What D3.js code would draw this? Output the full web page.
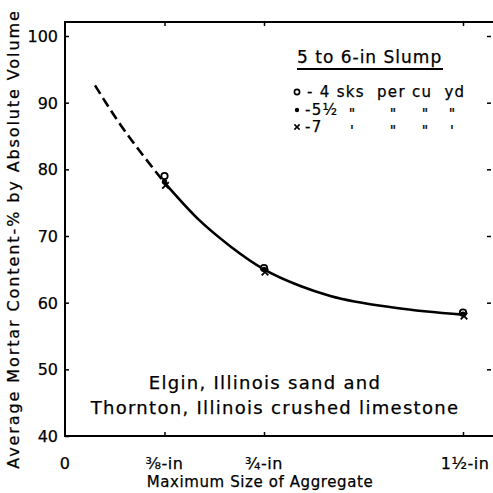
<!DOCTYPE html>
<html><head><meta charset="utf-8">
<script src="https://cdn.jsdelivr.net/npm/d3@7"></script>
<style>body{margin:0;background:#fff}svg{display:block}text{font-family:"DejaVu Sans",sans-serif;fill:#000;stroke:#000;stroke-width:0.25}</style>
</head><body><svg id="c" width="493" height="493"></svg>
<script>
const xTickVals = [0, 0.375, 0.75, 1.5];
const xTickLabels = ["0", "⅜-in", "¾-in", "1½-in"];
const yTickVals = [40, 50, 60, 70, 80, 90, 100];
const sizes = [0.375, 0.75, 1.5];
const sks4 = [79.0, 65.2, 58.5];
const sks55 = [78.2, 65.0, 58.3];
const sks7 = [77.6, 64.6, 58.0];
const curveDashed = [[0.113, 92.6], [0.2, 87.2], [0.3, 81.8], [0.375, 78.0]];
const curveSolid = [[0.375, 78.0], [0.5, 72.6], [0.625, 68.4], [0.75, 65.0], [0.887, 62.5], [1.0, 61.0], [1.25, 59.2], [1.5, 58.2]];
const legendRows = [
  { mark: "open", label: "- 4 sks  per cu  yd", dittos: [] },
  { mark: "dot", label: "-5½", dittos: ["\"", "\"", "\"", "\""] },
  { mark: "cross", label: "-7", dittos: ["'", "\"", "\"", "'"] }
];

const svg = d3.select("#c");
const x = d3.scaleLinear().domain([0, 1.5]).range([65, 463]);
const y = d3.scaleLinear().domain([40, 100]).range([436, 36]);
const fLeft = 65, fRight = 495, fTop = 22, fBottom = 436;

// frame
svg.append("rect").attr("x", fLeft).attr("y", fTop).attr("width", fRight - fLeft).attr("height", fBottom - fTop)
  .attr("fill", "none").attr("stroke", "#000").attr("stroke-width", 2);

// axes
const yAxisL = d3.axisRight(y).tickValues(yTickVals).tickSize(4).tickFormat("");
svg.append("g").attr("transform", `translate(${fLeft},0)`).call(yAxisL).call(g => g.select(".domain").remove());
const yAxisR = d3.axisLeft(y).tickValues(yTickVals.slice(1)).tickSize(4).tickFormat("");
svg.append("g").attr("transform", `translate(491,0)`).call(yAxisR).call(g => g.select(".domain").remove());
const xAxisT = d3.axisBottom(x).tickValues(xTickVals.slice(1)).tickSize(4).tickFormat("");
svg.append("g").attr("transform", `translate(0,${fTop})`).call(xAxisT).call(g => g.select(".domain").remove());
const xAxisB = d3.axisTop(x).tickValues(xTickVals.slice(1)).tickSize(4).tickFormat("");
svg.append("g").attr("transform", `translate(0,${fBottom})`).call(xAxisB).call(g => g.select(".domain").remove());
svg.selectAll(".tick line").attr("stroke", "#000").attr("stroke-width", 1.5);

// tick labels
svg.append("g").selectAll("text").data(yTickVals).join("text")
  .attr("x", 58).attr("y", d => y(d) + 6).attr("text-anchor", "end")
  .attr("font-size", 16).text(d => d);
svg.append("g").selectAll("text").data(xTickVals).join("text")
  .attr("x", (d, i) => x(d) + (i === 3 ? 2 : 0)).attr("y", 469).attr("text-anchor", "middle")
  .attr("font-size", 16).attr("letter-spacing", 0.5).text((d, i) => xTickLabels[i]);

// axis titles
svg.append("text").attr("x", 260).attr("y", 487).attr("text-anchor", "middle")
  .attr("font-size", 15).attr("letter-spacing", 0.6).text("Maximum Size of Aggregate");
svg.append("text").attr("transform", "translate(19,239) rotate(-90)").attr("text-anchor", "middle")
  .attr("font-size", 16).attr("letter-spacing", 1.9).text("Average  Mortar Content-% by Absolute Volume");

// curves
const line = d3.line().x(d => x(d[0])).y(d => y(d[1])).curve(d3.curveMonotoneX);
svg.append("path").attr("d", line(curveDashed)).attr("fill", "none").attr("stroke", "#000")
  .attr("stroke-width", 2.6).attr("stroke-dasharray", "10,5");
svg.append("path").attr("d", line(curveSolid)).attr("fill", "none").attr("stroke", "#000")
  .attr("stroke-width", 2.6);

// markers
svg.append("g").selectAll("circle").data(sizes).join("circle")
  .attr("cx", d => x(d)).attr("cy", (d, i) => y(sks4[i])).attr("r", 3.2)
  .attr("fill", "#fff").attr("stroke", "#000").attr("stroke-width", 1.8);
svg.append("g").selectAll("circle").data(sizes).join("circle")
  .attr("cx", d => x(d)).attr("cy", (d, i) => y(sks55[i])).attr("r", 2.6).attr("fill", "#000");
const cross = d3.symbol().type(d3.symbolX).size(30);
svg.append("g").selectAll("path").data(sizes).join("path")
  .attr("transform", (d, i) => `translate(${x(d) + 1},${y(sks7[i])})`).attr("d", cross())
  .attr("stroke", "#000").attr("stroke-width", 1.8).attr("fill", "none");

// legend
svg.append("text").attr("x", 297).attr("y", 63).attr("font-size", 17).attr("letter-spacing", 1.0).text("5 to 6-in Slump");
svg.append("line").attr("x1", 297).attr("x2", 443).attr("y1", 69).attr("y2", 69).attr("stroke", "#000").attr("stroke-width", 1.8);
const rowY = [92, 110, 127];
const dittoX = [352, 393, 425, 452];
legendRows.forEach((r, i) => {
  const cy = rowY[i];
  if (r.mark === "open") svg.append("circle").attr("cx", 297).attr("cy", cy).attr("r", 2.6).attr("fill", "none").attr("stroke", "#000").attr("stroke-width", 1.6);
  else if (r.mark === "dot") svg.append("circle").attr("cx", 297).attr("cy", cy).attr("r", 2.2).attr("fill", "#000");
  else svg.append("path").attr("transform", `translate(297,${cy})`).attr("d", d3.symbol().type(d3.symbolX).size(20)()).attr("stroke", "#000").attr("stroke-width", 1.5);
  svg.append("text").attr("x", i === 0 ? 307 : 305).attr("y", cy + 5).attr("font-size", 15).attr("letter-spacing", 1.3)
    .attr("xml:space", "preserve").text(r.label);
  r.dittos.forEach((d, j) => {
    svg.append("text").attr("x", dittoX[j]).attr("y", cy + 8).attr("font-size", 14).attr("text-anchor", "middle").text(d);
  });
});

// note
svg.append("text").attr("x", 265).attr("y", 389).attr("text-anchor", "middle").attr("font-size", 18).attr("letter-spacing", 1.3).text("Elgin, Illinois sand and");
svg.append("text").attr("x", 275).attr("y", 414).attr("text-anchor", "middle").attr("font-size", 18).attr("letter-spacing", 1.3).text("Thornton, Illinois crushed limestone");
</script></body></html>
